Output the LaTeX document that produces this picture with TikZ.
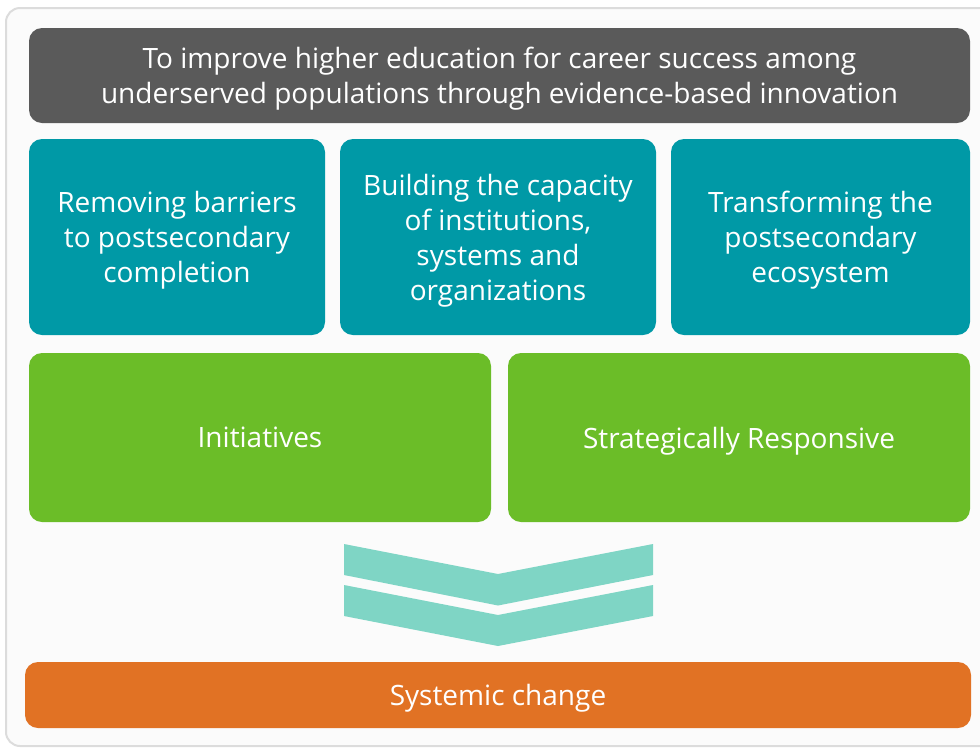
\documentclass[tikz,border=0pt]{standalone}
\usepackage{fontspec}
\setmainfont{Open Sans}
\definecolor{frameline}{HTML}{DCDCDC}
\definecolor{framefill}{HTML}{FBFBFB}
\definecolor{goalgray}{HTML}{5A5A5A}
\definecolor{pillarteal}{HTML}{0099A6}
\definecolor{leafgreen}{HTML}{6BBD28}
\definecolor{chevronmint}{HTML}{7FD5C5}
\definecolor{changeorange}{HTML}{E17224}
\tikzset{
  tile/.style={rounded corners=13pt, inner sep=0pt, text=white, align=center,
    text depth=0pt, font=\fontsize{28}{35}\selectfont},
  goal/.style={tile, fill=goalgray, minimum width=941pt, minimum height=95pt},
  pillar/.style={tile, fill=pillarteal, minimum height=196pt},
  approach/.style={tile, fill=leafgreen, minimum width=462pt, minimum height=169pt},
  result/.style={tile, fill=changeorange, minimum width=946pt, minimum height=66pt},
}
\begin{document}
\begin{tikzpicture}[x=1pt, y=-1pt]
  \useasboundingbox (0,0) rectangle (980,748);
  % cadre
  \draw[frameline, line width=2pt, fill=framefill, rounded corners=14pt] (6,8) rectangle (1000,746);

  % objectif
  \node[goal] (goal) at (499.5,75.5) {To improve higher education for career success among\\underserved populations through evidence-based innovation};

  % piliers
  \node[pillar, minimum width=296pt] (barriers) at (177,237) {Removing barriers\\to postsecondary\\completion};
  \node[pillar, minimum width=316pt] (capacity) at (498,237) {Building the capacity\\of institutions,\\systems and\\organizations};
  \node[pillar, minimum width=299pt] (ecosystem) at (820.5,237) {Transforming the\\postsecondary\\ecosystem};

  % approches
  \node[approach] (initiatives) at (260,437.5) {Initiatives};
  \node[approach] (responsive) at (739,437.5) {Strategically Responsive};

  % chevrons
  \fill[chevronmint] (344,544) -- (498,574) -- (653,544) -- (653,575) -- (498,605.5) -- (344,575) -- cycle;
  \fill[chevronmint] (344,585) -- (498,615) -- (653,585) -- (653,616) -- (498,646) -- (344,616) -- cycle;

  % resultat
  \node[result] (change) at (498,695) {Systemic change};
\end{tikzpicture}
\end{document}
